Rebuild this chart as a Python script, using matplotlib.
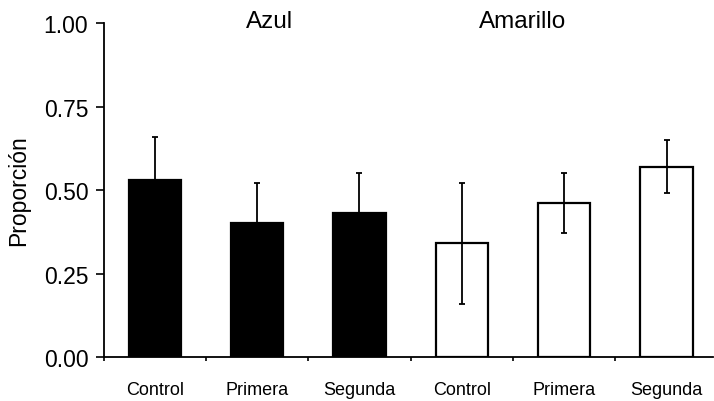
import numpy as np
import matplotlib.pyplot as plt
from matplotlib.ticker import FixedLocator

plt.rcParams['font.family'] = ['Liberation Sans', 'DejaVu Sans']

# proportions per group: first three are "Azul", last three "Amarillo"
labels = ["Control", "Primera", "Segunda", "Control", "Primera", "Segunda"]
means = [0.53, 0.40, 0.43, 0.34, 0.46, 0.57]
errors = [0.13, 0.12, 0.12, 0.18, 0.09, 0.08]
fills = ["black", "black", "black", "white", "white", "white"]
groups = ["Azul", "Amarillo"]

fig = plt.figure(figsize=(7.14, 4.02), dpi=100)
ax = fig.add_axes([0.145, 0.1095, 0.853, 0.8305])

x = np.arange(len(means))
ax.bar(x, means, width=0.51, color=fills, edgecolor="black", linewidth=1.6, zorder=2)
ax.errorbar(x, means, yerr=errors, fmt="none", ecolor="black", elinewidth=1.3,
            capsize=2.5, capthick=1.3, zorder=3)

ax.set_xlim(-0.5, 5.45)
ax.set_ylim(0, 1.0)
ax.set_yticks([0, 0.25, 0.5, 0.75, 1.0])
ax.set_yticklabels(["0.00", "0.25", "0.50", "0.75", "1.00"], fontsize=16.5)
ax.tick_params(axis="y", direction="out", length=6, width=1.2, pad=5)

ax.set_xticks(x)
ax.set_xticklabels(labels, fontsize=13)
ax.tick_params(axis="x", which="major", length=0, pad=17)
ax.xaxis.set_minor_locator(FixedLocator(np.arange(-0.5, 5.0, 1.0)))
ax.tick_params(axis="x", which="minor", direction="out", length=3, width=1.2)

for side in ("top", "right"):
    ax.spines[side].set_visible(False)
for side in ("left", "bottom"):
    ax.spines[side].set_linewidth(1.3)

ax.set_ylabel("Proporción", fontsize=16.5, labelpad=10)

ax.text(1.12, 1.006, groups[0], ha="center", va="center", fontsize=17.5)
ax.text(3.59, 1.006, groups[1], ha="center", va="center", fontsize=17.5)

fig.savefig("out.png", dpi=100)
